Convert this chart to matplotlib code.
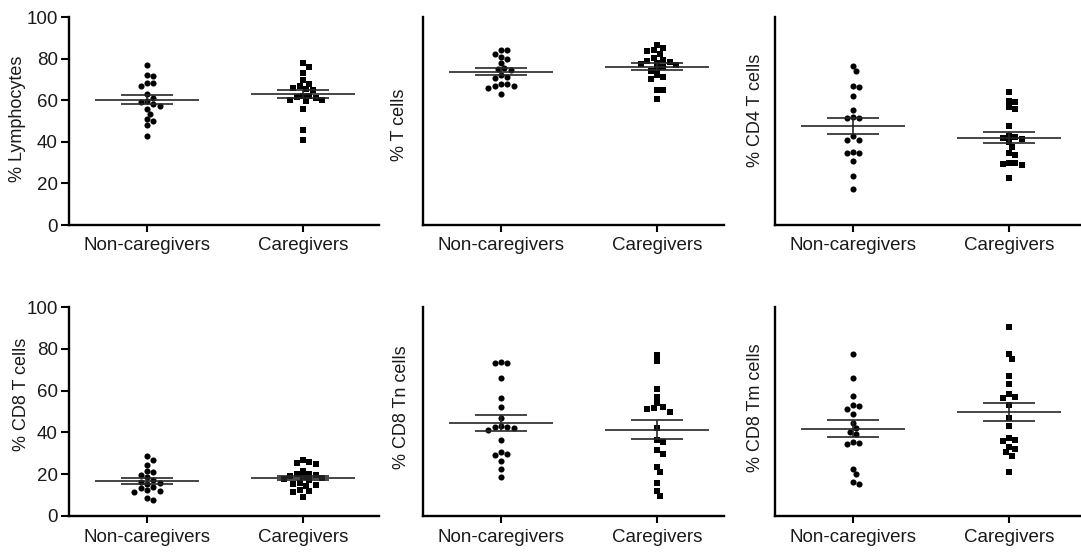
import numpy as np
import matplotlib
matplotlib.use("Agg")
import matplotlib.pyplot as plt

# ---------------- data ----------------
groups = ["Non-caregivers", "Caregivers"]

nc_lymph = [77, 72, 71.5, 68.5, 68.5, 67, 63, 61, 59.5, 59, 58, 57, 56, 53.5, 51, 50, 48, 43]
cg_lymph = [78, 76, 73, 69.5, 68, 67, 66, 65.5, 65, 62, 62, 61.5, 61, 60, 60, 59.5, 56, 45.5, 41]

nc_tcell = [84, 84, 82, 81, 80, 78, 75.5, 75, 74.5, 72, 71, 70.5, 68, 68, 67, 67, 66, 63]
cg_tcell = [86.5, 85, 84, 83.5, 82, 80.5, 79.5, 79, 78.5, 78, 77.5, 77, 76, 75, 74, 72, 71, 70, 65, 65, 60.5]

nc_cd4 = [76.5, 74, 67, 66.5, 62, 55.5, 52, 51.5, 51.5, 43, 41, 41, 35, 34.5, 34.5, 31, 23.5, 17.5]
cg_cd4 = [64, 59.5, 59, 56.5, 56, 47.5, 43, 42.5, 42, 41.5, 40, 37.5, 34.5, 33.5, 30, 30, 29.5, 29, 22.5]

nc_cd8 = [28.5, 27, 24.5, 21.5, 21, 19.5, 18.5, 17, 16.5, 16, 15.5, 14, 13.5, 12.5, 12, 11.5, 8.5, 7.5]
cg_cd8 = [27, 26, 25.5, 25, 21.5, 20, 20, 19.5, 19, 18.5, 18, 17.5, 17, 16, 15.5, 15, 14.5, 12.5, 12, 11.5, 9]

nc_cd8tn = [73.5, 73, 73, 66, 56.5, 52, 47, 43, 42.5, 42.5, 42, 41, 36.5, 30.5, 29.5, 29, 26.5, 22.5, 18.5]
cg_cd8tn = [77, 74, 61, 57, 54, 52, 51.5, 51, 50, 42, 36.5, 35.5, 31.5, 29.5, 23.5, 21, 16, 12, 9.5]

nc_cd8tm = [77.5, 66, 57.5, 53, 52.5, 51, 49, 44.5, 42, 40, 39, 35.5, 35, 34.5, 22.5, 20, 16.5, 15.5]
cg_cd8tm = [90.5, 77.5, 75, 67, 63, 58.5, 57, 56.5, 53, 47, 43, 37.5, 36.5, 36, 33, 32, 30.5, 28.5, 21]

ylabels = ["% Lymphocytes", "% T cells", "% CD4 T cells",
           "% CD8 T cells", "% CD8 Tn cells", "% CD8 Tm cells"]
yticks = [0, 20, 40, 60, 80, 100]

panel_data = [(nc_lymph, cg_lymph), (nc_tcell, cg_tcell), (nc_cd4, cg_cd4),
              (nc_cd8, cg_cd8), (nc_cd8tn, cg_cd8tn), (nc_cd8tm, cg_cd8tm)]

# ---------------- layout ----------------
W, H = 1081, 553
fig = plt.figure(figsize=(W / 100, H / 100), dpi=100)
plt.rcParams['font.family'] = ['Liberation Sans', 'DejaVu Sans']

PX_X = 156.0            # pixels per category unit
col_left_px = [69, 423, 775]
col_xmax = [1.49, 1.43, 1.47]
row_top_px = [17, 307]
row_h_px = [208, 209]
ylab_x_px = [[17, 400, 755], [21, 402, 755]]
ylab_y_frac = [[0.51, 0.48, 0.55], [0.58, 0.52, 0.52]]

TXT = '#1a1a1a'


def swarm(values, px_per_y, d_px=6.4):
    """Deterministic beeswarm offsets (category units)."""
    vals = np.asarray(values, float)
    order = np.argsort(-vals)
    placed = []
    offs = np.zeros(len(vals))
    step = d_px * 0.5
    for idx in order:
        y = vals[idx] * px_per_y
        cands = [0.0]
        for j in range(1, 12):
            cands += [j * step, -j * step]
        for c in cands:
            ok = True
            for (px, py) in placed:
                if (px - c) ** 2 + (py - y) ** 2 < (d_px * 0.95) ** 2:
                    ok = False
                    break
            if ok:
                break
        placed.append((c, y))
        offs[idx] = c / PX_X
    return offs


for p, (nc, cg) in enumerate(panel_data):
    r, c = divmod(p, 3)
    xmin = -0.5
    xmax = col_xmax[c]
    wpx = (xmax - xmin) * PX_X
    left = col_left_px[c] / W
    bottom = 1 - (row_top_px[r] + row_h_px[r]) / H
    ax = fig.add_axes([left, bottom, wpx / W, row_h_px[r] / H])
    px_per_y = row_h_px[r] / 100.0

    for i, (vals, mk, ms) in enumerate([(nc, 'o', 4.4), (cg, 's', 4.3)]):
        vals = np.asarray(vals, float)
        offs = swarm(vals, px_per_y)
        ax.plot(i + offs, vals, linestyle='none', marker=mk, markersize=ms,
                color='black', markeredgewidth=0)
        m = vals.mean()
        sem = vals.std(ddof=1) / np.sqrt(len(vals))
        ax.hlines(m, i - 0.333, i + 0.333, color='#262626', lw=1.2, zorder=3)
        ax.hlines([m - sem, m + sem], i - 0.167, i + 0.167, color='#262626', lw=1.2, zorder=3)
        ax.vlines(i, m - sem, m + sem, color='#262626', lw=1.2, zorder=3)

    ax.set_xlim(xmin, xmax)
    ax.set_ylim(0, 100)
    for s in ['top', 'right']:
        ax.spines[s].set_visible(False)
    for s in ['left', 'bottom']:
        ax.spines[s].set_linewidth(1.7)
        ax.spines[s].set_color('black')
    ax.set_xticks([0, 1])
    ax.set_xticklabels(groups, fontsize=13.5, color=TXT)
    ax.tick_params(axis='x', length=5, width=1.5, pad=4)
    if c == 0:
        ax.set_yticks(yticks)
        ax.set_yticklabels([str(t) for t in yticks], fontsize=13.5, color=TXT)
        ax.tick_params(axis='y', length=6, width=1.5, pad=2)
    else:
        ax.set_yticks([])
    ax.set_ylabel(ylabels[p], fontsize=13, color=TXT)
    ax.yaxis.label.set_verticalalignment('center')
    lx = (ylab_x_px[r][c] - col_left_px[c]) / wpx
    ax.yaxis.set_label_coords(lx, ylab_y_frac[r][c])
    ax.patch.set_alpha(0)

fig.savefig("out.png", dpi=100)
